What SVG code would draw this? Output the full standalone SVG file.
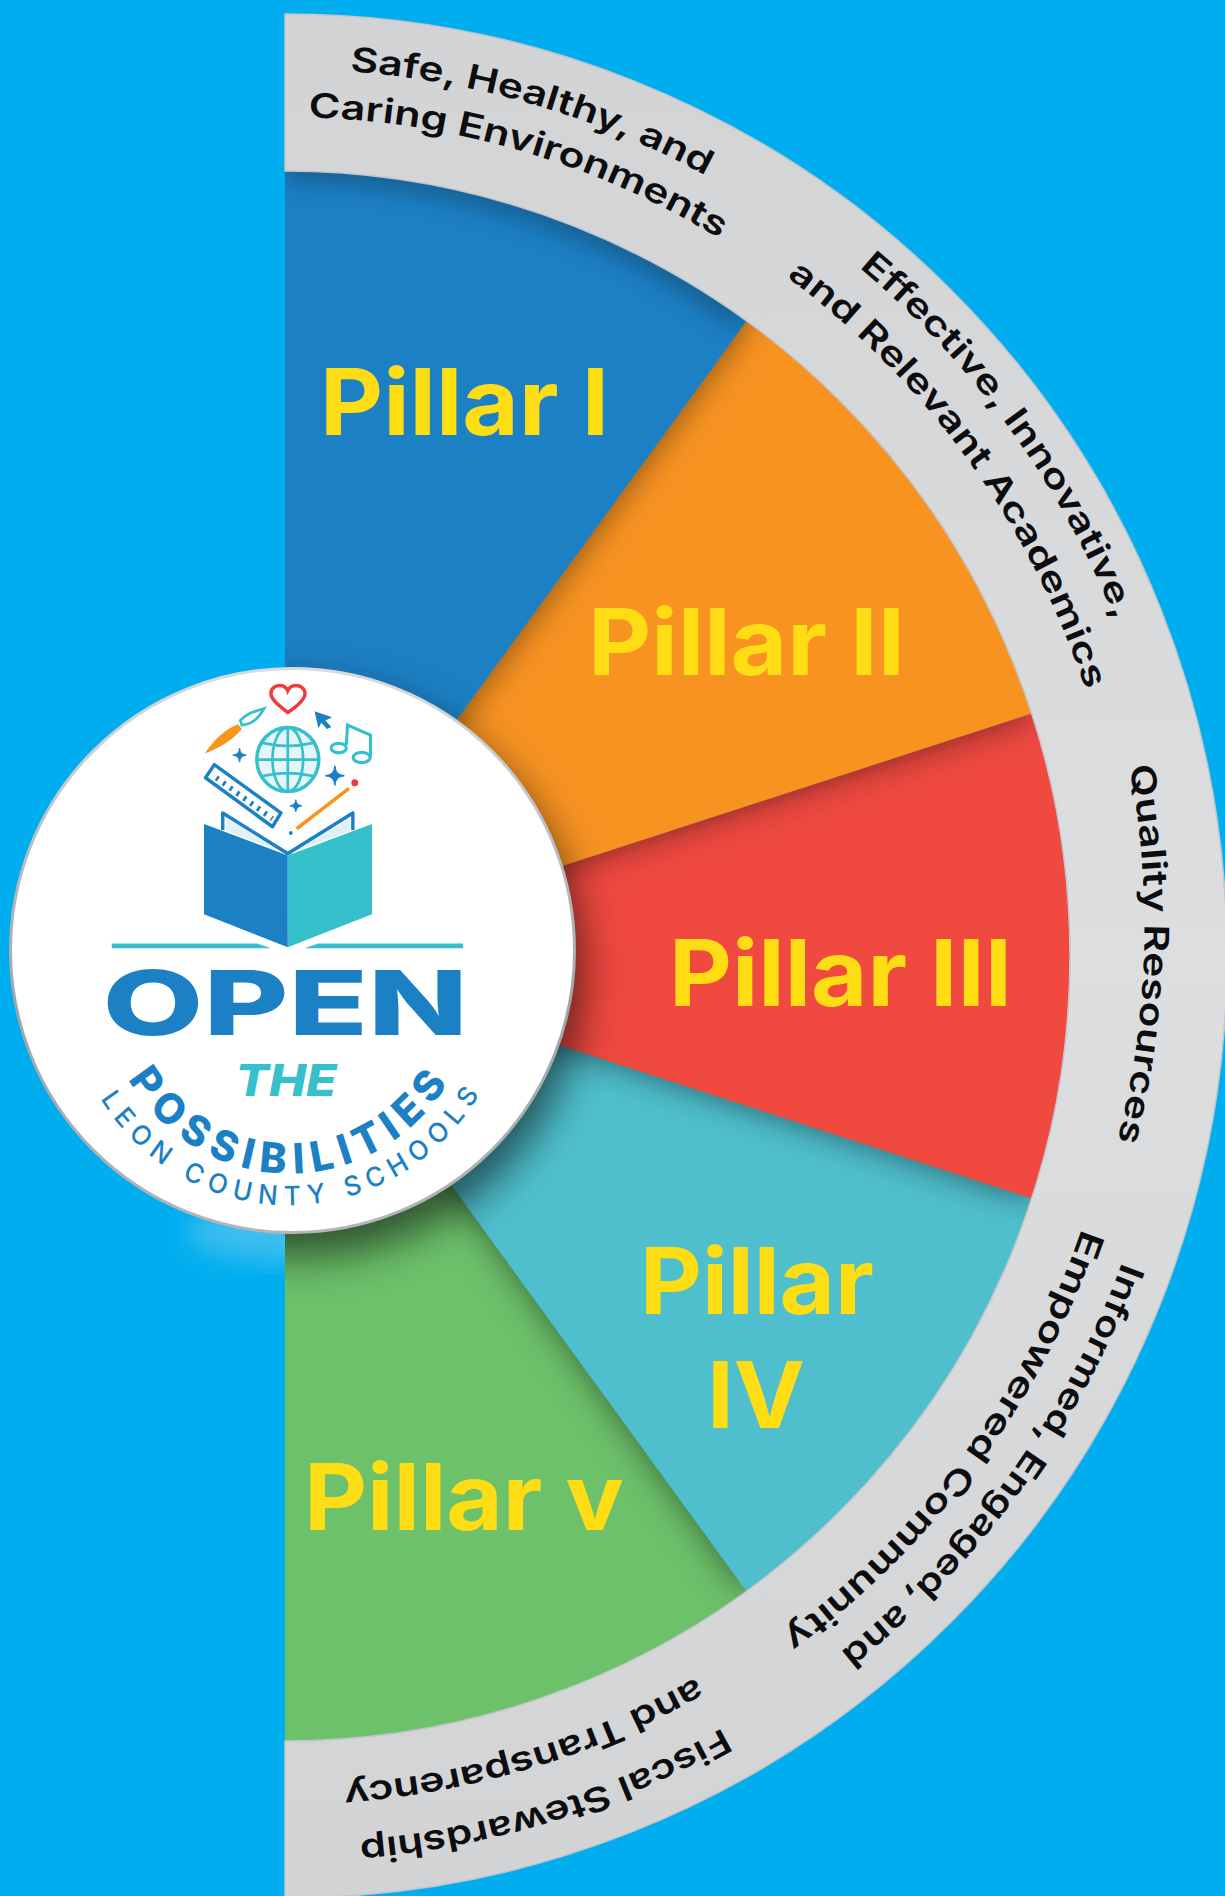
<svg xmlns="http://www.w3.org/2000/svg" width="1225" height="1896" viewBox="0 0 1225 1896">
<style>
.band{font-family:Inter,"Liberation Sans",sans-serif;font-weight:600;font-size:34px;fill:#0d0d0f}
.pillar{font-family:Inter,"Liberation Sans",sans-serif;font-weight:700;font-size:92px;fill:#ffdd15}
.logoB{font-family:Inter,"Liberation Sans",sans-serif;font-weight:800;fill:#1b80c4}
.t{fill:none;stroke:#35c0cc}
.b{fill:none;stroke:#1b80c4}
</style>
<defs>
<clipPath id="half"><path d="M285 171A785 785 0 0 1 285 1741Z"/></clipPath>
<clipPath id="leftSide"><rect x="0" y="1100" width="285" height="300"/></clipPath>
<filter id="cast" x="-20%" y="-20%" width="140%" height="140%"><feDropShadow dx="0" dy="0" stdDeviation="17" flood-color="#000" flood-opacity=".5"/></filter>
<filter id="blur12" x="-20%" y="-20%" width="140%" height="140%"><feGaussianBlur stdDeviation="12"/></filter>
<filter id="blur18" x="-20%" y="-20%" width="140%" height="140%"><feGaussianBlur stdDeviation="20"/></filter>
<linearGradient id="ringFill" x1="0" y1="0" x2="0" y2="1"><stop offset="0" stop-color="#d2d3d5"/><stop offset=".5" stop-color="#dddee0"/><stop offset="1" stop-color="#d2d3d5"/></linearGradient>
<linearGradient id="rim" x1="0" y1="0" x2="0" y2="1"><stop offset="0" stop-color="#d8dadc"/><stop offset=".6" stop-color="#9ea6ad"/><stop offset="1" stop-color="#b4b6b8"/></linearGradient>
<path id="p1a" d="M350 68.4A888 888 0 0 1 794.3 226.6"/>
<path id="p1b" d="M308.5 114.3A840 840 0 0 1 802.2 292.1"/>
<path id="p2a" d="M855 272A889 889 0 0 1 1143.7 723.9"/>
<path id="p2b" d="M784 280A839 839 0 0 1 1105.7 779.6"/>
<path id="p3a" d="M1114.5 768.6A850 850 0 0 1 1083.7 1244.7"/>
<path id="p4a" d="M1115.6 1259.6A885 885 0 0 1 727.5 1720.4"/>
<path id="p4b" d="M1077.3 1226.8A838 838 0 0 1 704 1679.7"/>
<path id="p5a" d="M722.2 1726.9A888 888 0 0 1 316 1841.5"/>
<path id="p5b" d="M698.9 1682.7A838 838 0 0 1 314.2 1791.5"/>
<path id="possPath" d="M335 1085A489 489 0 0 0 1170 1095"/>
<path id="leonPath" d="M262 1135A583 583 0 0 0 1245 1135"/>
</defs>
<rect id="background" width="1225" height="1896" fill="#00aeef"/>
<g clip-path="url(#half)">
<g id="pillar-5"><path d="M285 956L746.4 1591.1A785 785 0 0 1 285 1741Z" fill="#6cc16a"/></g>
<g id="pillar-4"><path d="M285 956L1031.6 1198.6A785 785 0 0 1 746.4 1591.1Z" fill="#4fbfcd" filter="url(#cast)"/></g>
<g id="pillar-3"><path d="M285 956L1031.6 713.4A785 785 0 0 1 1031.6 1198.6Z" fill="#ef4a40" filter="url(#cast)"/></g>
<g id="pillar-2"><path d="M285 956L746.4 320.9A785 785 0 0 1 1031.6 713.4Z" fill="#f89320" filter="url(#cast)"/></g>
<g id="pillar-1"><path d="M285 956V171A785 785 0 0 1 746.4 320.9Z" fill="#1b80c4" filter="url(#cast)"/></g>
<path id="ring-shadow" d="M285 168A788 788 0 0 1 745 318" fill="none" stroke="#000" stroke-opacity=".3" stroke-width="24" filter="url(#blur12)"/>
<circle id="logo-shadow" cx="298" cy="972" r="286" fill="#000" fill-opacity=".55" filter="url(#blur18)"/>
</g>
<g id="band">
<path d="M285 14A942 942 0 0 1 285 1898V1741A785 785 0 0 0 285 171Z" fill="url(#ringFill)" stroke="#c3c5c8" stroke-width="1.5"/>
</g>
<g id="pillar-labels">
<text class="pillar" x="320" y="435" textLength="289" lengthAdjust="spacingAndGlyphs">Pillar I</text>
<text class="pillar" x="588" y="675" textLength="317" lengthAdjust="spacingAndGlyphs">Pillar II</text>
<text class="pillar" x="669" y="1006" textLength="343" lengthAdjust="spacingAndGlyphs">Pillar III</text>
<text class="pillar" x="640" y="1314" textLength="234" lengthAdjust="spacingAndGlyphs">Pillar</text>
<text class="pillar" x="707" y="1428" textLength="98" lengthAdjust="spacingAndGlyphs">IV</text>
<text class="pillar" x="304" y="1530" textLength="320" lengthAdjust="spacingAndGlyphs">Pillar v</text>
</g>
<g id="band-labels">
<text class="band" dy="3"><textPath href="#p1a" textLength="375" lengthAdjust="spacingAndGlyphs">Safe, Healthy, and</textPath></text>
<text class="band" dy="3"><textPath href="#p1b" textLength="435" lengthAdjust="spacingAndGlyphs">Caring Environments</textPath></text>
<text class="band" dy="-6"><textPath href="#p2a" textLength="438" lengthAdjust="spacingAndGlyphs">Effective, Innovative,</textPath></text>
<text class="band" dy="-4"><textPath href="#p2b" textLength="516" lengthAdjust="spacingAndGlyphs">and Relevant Academics</textPath></text>
<text class="band" dy="-9" transform="rotate(1.8 1140 954)"><textPath href="#p3a" textLength="374" lengthAdjust="spacingAndGlyphs">Quality Resources</textPath></text>
<text class="band" dy="-7"><textPath href="#p4a" textLength="484" lengthAdjust="spacingAndGlyphs">Informed, Engaged, and</textPath></text>
<text class="band" dy="-5"><textPath href="#p4b" textLength="510" lengthAdjust="spacingAndGlyphs">Empowered Community</textPath></text>
<text class="band" dy="-1"><textPath href="#p5a" textLength="383" lengthAdjust="spacingAndGlyphs">Fiscal Stewardship</textPath></text>
<text class="band" dy="6"><textPath href="#p5b" textLength="374" lengthAdjust="spacingAndGlyphs">and Transparency</textPath></text>
</g>
<g clip-path="url(#leftSide)"><ellipse id="logo-glow" cx="292" cy="1232" rx="105" ry="30" fill="#9fd8ee" fill-opacity=".38" filter="url(#blur12)"/></g>
<g id="logo">
<circle cx="292.5" cy="950.5" r="282" fill="#fff" stroke="url(#rim)" stroke-width="3"/>
<g transform="translate(0 650) scale(.3827 .3954)">
<path d="M752 158C720 135 708 122 708 110C708 95 722 90 732 90C742 90 750 97 752 103C755 97 762 90 773 90C785 90 797 97 797 110C797 125 780 140 752 158Z" fill="#fff" stroke="#ee3b3b" stroke-width="9"/>
<path d="M535 262C560 225 590 200 622 188L632 200C605 230 570 250 535 262Z" fill="#f7941d"/>
<path class="t" stroke-width="7" d="M632 190L628 178C645 160 665 155 690 148C680 165 665 185 643 188Z"/>
<path d="M822 155L868 170L850 178L866 195L854 200L840 184L832 198Z" fill="#1b80c4"/>
<g class="t" stroke-width="8"><ellipse cx="885" cy="248" rx="20" ry="12"/><ellipse cx="945" cy="272" rx="22" ry="13"/><path d="M905 240L908 190L968 215V268"/></g>
<g class="t" stroke-width="9">
<circle cx="752" cy="277" r="81" style="fill:#e6f6f8"/>
<ellipse cx="752" cy="277" rx="40" ry="81" stroke-width="7"/>
<path d="M752 196V358M671 277H833M685 235Q752 250 819 235M685 319Q752 304 819 319" stroke-width="7"/>
</g>
<path d="M626 248Q626 266 644 266Q626 266 626 284Q626 266 608 266Q626 266 626 248Z" fill="#1b80c4" stroke="#1b80c4" stroke-width="3"/>
<path d="M875 293Q875 318 900 318Q875 318 875 343Q875 318 850 318Q875 318 875 293Z" fill="#1b80c4" stroke="#1b80c4" stroke-width="4"/>
<path d="M773 378Q773 394 789 394Q773 394 773 410Q773 394 757 394Q773 394 773 378Z" fill="#1b80c4" stroke="#1b80c4" stroke-width="3"/>
<path d="M560 290L734 412L712 447L537 323Z" fill="#fff" stroke="#1b80c4" stroke-width="9" stroke-linejoin="round"/>
<path d="M565 323L712 427" fill="none" stroke="#1b80c4" stroke-width="14" stroke-dasharray="7 15"/>
<path d="M775 452L912 350" stroke="#f7941d" stroke-width="9"/>
<circle cx="927" cy="336" r="9" fill="#ee3b3b"/>
<circle cx="760" cy="463" r="5" fill="#1b80c4"/>
<path d="M590 425L725 505L590 458Z M915 425L780 505L915 458Z" fill="#dff1f6"/>
<path d="M582 455V412L752 515L922 412V455" fill="none" stroke="#1b80c4" stroke-width="9" stroke-linejoin="round"/>
<path d="M533 440L752 520V752L533 668Z" fill="#1b80c4"/>
<path d="M752 520L972 440V668L752 752Z" fill="#35c0cc"/>
<path d="M292 742H672L708 754H292ZM1210 742H832L796 754H1210Z" fill="#35c0cc"/>
<text class="logoB" x="268" y="975" font-size="227" textLength="955" lengthAdjust="spacingAndGlyphs">OPEN</text>
<text x="615" y="1128" font-family="Inter,'Liberation Sans',sans-serif" font-weight="800" font-style="italic" font-size="112" fill="#35c0cc" textLength="265" lengthAdjust="spacingAndGlyphs">THE</text>
<text class="logoB" font-size="106"><textPath href="#possPath" textLength="1000">POSSIBILITIES</textPath></text>
<text class="logoB" font-size="68" style="font-weight:500"><textPath href="#leonPath" textLength="1183">LEON COUNTY SCHOOLS</textPath></text>
</g>
</g>
</svg>
